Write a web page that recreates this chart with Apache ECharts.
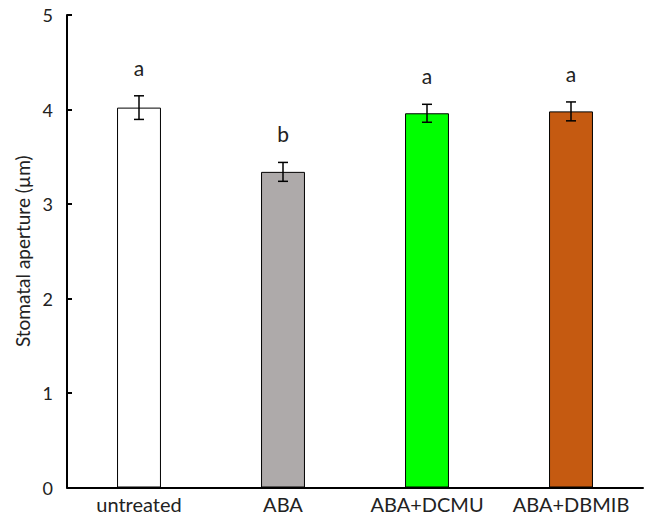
<!DOCTYPE html>
<html>
<head>
<meta charset="utf-8">
<script src="https://cdn.jsdelivr.net/npm/echarts@6/dist/echarts.min.js"></script>
<style>html,body{margin:0;padding:0;background:#fff}#c{width:648px;height:517px}</style>
</head>
<body>
<div id="c"></div>
<script>
const categories = ['untreated', 'ABA', 'ABA+DCMU', 'ABA+DBMIB'];
const means = [4.02, 3.34, 3.96, 3.98];
const errors = [0.125, 0.10, 0.095, 0.10];
const letters = ['a', 'b', 'a', 'a'];
const barColors = ['#ffffff', '#aeaaaa', '#00ff00', '#c55a11'];
const yTicks = [0, 1, 2, 3, 4, 5];

const chart = echarts.init(document.getElementById('c'), null, {renderer: 'svg'});
const FONT = 'Lato, "Open Sans", sans-serif';

chart.setOption({
  animation: false,
  grid: {left: 67, right: 5, top: 15, bottom: 29.5, containLabel: false},
  xAxis: {
    type: 'category',
    data: categories,
    axisLine: {lineStyle: {color: '#000', width: 2}},
    axisTick: {show: false},
    axisLabel: {color: '#222', fontSize: 20, lineHeight: 20, fontFamily: FONT, margin: 6, interval: 0, hideOverlap: false}
  },
  yAxis: {
    type: 'value',
    min: yTicks[0], max: yTicks[yTicks.length - 1], interval: 1,
    name: 'Stomatal aperture (\u00b5m)',
    nameLocation: 'middle',
    nameGap: 33,
    nameTextStyle: {color: '#222', fontSize: 19, fontFamily: FONT},
    axisLine: {show: true, lineStyle: {color: '#000', width: 2}},
    axisTick: {show: true, inside: true, length: 5, lineStyle: {color: '#000', width: 2}},
    splitLine: {show: false},
    axisLabel: {color: '#222', fontSize: 18, fontFamily: FONT, margin: 14}
  },
  series: [
    {
      type: 'bar',
      barWidth: '30.5%',
      data: means.map((v, i) => ({value: v, itemStyle: {color: barColors[i]}})),
      itemStyle: {borderColor: '#000', borderWidth: 1}
    },
    {
      type: 'custom',
      data: means.map((v, i) => [i, v - errors[i], v + errors[i]]),
      renderItem: function (params, api) {
        const i = api.value(0);
        const lo = api.coord([i, api.value(1)]);
        const hi = api.coord([i, api.value(2)]);
        const x = lo[0], hw = 5;
        const st = {stroke: '#000', lineWidth: 1.5};
        return {
          type: 'group',
          children: [
            {type: 'line', shape: {x1: x, y1: lo[1], x2: x, y2: hi[1]}, style: st},
            {type: 'line', shape: {x1: x - hw, y1: lo[1], x2: x + hw, y2: lo[1]}, style: st},
            {type: 'line', shape: {x1: x - hw, y1: hi[1], x2: x + hw, y2: hi[1]}, style: st},
            {type: 'text', x: x, y: hi[1] - 18, style: {text: letters[params.dataIndex], fill: '#222', font: '21px ' + FONT, textAlign: 'center', textVerticalAlign: 'bottom'}}
          ]
        };
      },
      z: 10
    }
  ]
});
</script>
</body>
</html>
